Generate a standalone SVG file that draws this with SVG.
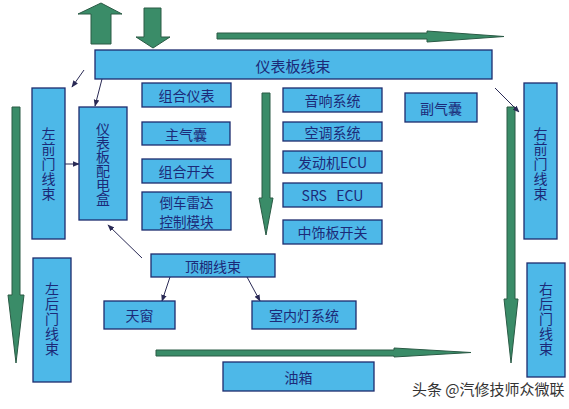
<svg xmlns="http://www.w3.org/2000/svg" width="569" height="409" viewBox="0 0 569 409">
<defs>
<style>
.box{fill:#4db8e8;stroke:#1d2c6e;stroke-width:1.3}
.t{font-family:"Noto Sans CJK SC","Liberation Sans",sans-serif;font-size:14px;fill:#1c2a78;text-anchor:middle;dominant-baseline:central}
.v{font-family:"Noto Sans CJK SC","Liberation Sans",sans-serif;font-size:14px;fill:#1c2a78;text-anchor:middle;writing-mode:vertical-rl;letter-spacing:1px}
.big{fill:#3a8c68;stroke:#2a5a45;stroke-width:1}
.ln{stroke:#2a2a55;stroke-width:1;fill:none;marker-end:url(#ah)}
.wm{font-family:"Noto Sans CJK SC","Liberation Sans",sans-serif;font-size:15px;fill:#333;stroke:#fff;stroke-width:2;paint-order:stroke}
</style>
<marker id="ah" viewBox="0 0 10 10" refX="9" refY="5" markerWidth="7" markerHeight="7" orient="auto" markerUnits="userSpaceOnUse">
<path d="M0,1 L10,5 L0,9 z" fill="#2a2a55"/>
</marker>
</defs>
<rect width="569" height="409" fill="#ffffff"/>

<g id="connectors">
<path class="big" d="M91,44 V14 H78 L101,3 L122,14 H111 V44 Z"/>
<path class="big" d="M144,8 H161 V37 H170 L153,48 L136,37 H144 Z"/>
<path class="big" d="M217,33 H427 V31 L504,36.5 L427,42 V39 H217 Z"/>
<path class="big" d="M262,93 H270 V198 H273 L266,235 L259,198 H262 Z"/>
<path class="big" d="M12,107 H20 V295 H24 L16,363 L8,295 H12 Z"/>
<path class="big" d="M507,107 H515 V299 H518 L511,363 L504,299 H507 Z"/>
<path class="big" d="M156,350 H394 V348 L471,352.5 L394,357 V356 H156 Z"/>
<line class="ln" x1="84" y1="70" x2="72" y2="87"/>
<line class="ln" x1="102" y1="79" x2="95" y2="106"/>
<line class="ln" x1="65" y1="164" x2="79" y2="164"/>
<line class="ln" x1="142" y1="258" x2="108" y2="225"/>
<line class="ln" x1="495" y1="88" x2="519" y2="112"/>
<line class="ln" x1="170" y1="277" x2="162" y2="301"/>
<line class="ln" x1="247" y1="277" x2="260" y2="301"/>
</g>

<g id="n-ybxs"><rect class="box" x="95" y="50" width="397" height="29"/><text class="t" x="293" y="65" style="font-size:15px">仪表板线束</text></g>

<g id="n-zqmxs"><rect class="box" x="32" y="88" width="33" height="151"/><text class="v" x="48.5" y="164">左前门线束</text></g>

<g id="n-pdh"><rect class="box" x="79" y="107" width="48" height="113"/><text class="v" x="103" y="164" style="letter-spacing:0">仪表板配电盒</text></g>

<g id="n-zhyb"><rect class="box" x="142" y="83" width="89" height="24"/><text class="t" x="186.5" y="95">组合仪表</text></g>
<g id="n-zqn"><rect class="box" x="142" y="122" width="88" height="23"/><text class="t" x="186" y="133.5">主气囊</text></g>
<g id="n-zhkg"><rect class="box" x="142" y="159" width="89" height="24"/><text class="t" x="186.5" y="171">组合开关</text></g>
<g id="n-dcld"><rect class="box" x="142" y="192" width="89" height="38"/><text class="t" style="font-size:13.5px"><tspan x="186.5" y="201.5">倒车雷达</tspan><tspan x="186.5" y="220.5">控制模块</tspan></text></g>

<g id="n-yxxt"><rect class="box" x="283" y="88" width="99" height="24"/><text class="t" x="332.5" y="100">音响系统</text></g>
<g id="n-ktxt"><rect class="box" x="283" y="122" width="99" height="19"/><text class="t" x="332.5" y="131.5">空调系统</text></g>
<g id="n-fdj"><rect class="box" x="283" y="151" width="99" height="22"/><text class="t" x="332.5" y="162">发动机ECU</text></g>
<g id="n-srs"><rect class="box" x="283" y="183" width="99" height="24"/><text class="t" x="332.5" y="195" xml:space="preserve">SRS   ECU</text></g>
<g id="n-zsb"><rect class="box" x="283" y="220" width="99" height="24"/><text class="t" x="332.5" y="232">中饰板开关</text></g>

<g id="n-fqn"><rect class="box" x="405" y="93" width="72" height="29"/><text class="t" x="441" y="107.5">副气囊</text></g>

<g id="n-yqmxs"><rect class="box" x="524" y="83" width="33" height="156"/><text class="v" x="540.5" y="164">右前门线束</text></g>

<g id="n-dpxs"><rect class="box" x="151" y="254" width="124" height="23"/><text class="t" x="213" y="265.5">顶棚线束</text></g>
<g id="n-tc"><rect class="box" x="104" y="301" width="71" height="28"/><text class="t" x="139.5" y="315">天窗</text></g>
<g id="n-sndxt"><rect class="box" x="252" y="301" width="104" height="28"/><text class="t" x="304" y="315">室内灯系统</text></g>

<g id="n-zhmxs"><rect class="box" x="33" y="258" width="38" height="124"/><text class="v" x="52" y="319">左后门线束</text></g>

<g id="n-yhmxs"><rect class="box" x="527" y="263" width="38" height="114"/><text class="v" x="546" y="319">右后门线束</text></g>

<g id="n-yx"><rect class="box" x="223" y="362" width="151" height="29"/><text class="t" x="298.5" y="376.5">油箱</text></g>

<text class="wm" x="412" y="395">头条 @汽修技师众微联</text>
</svg>
